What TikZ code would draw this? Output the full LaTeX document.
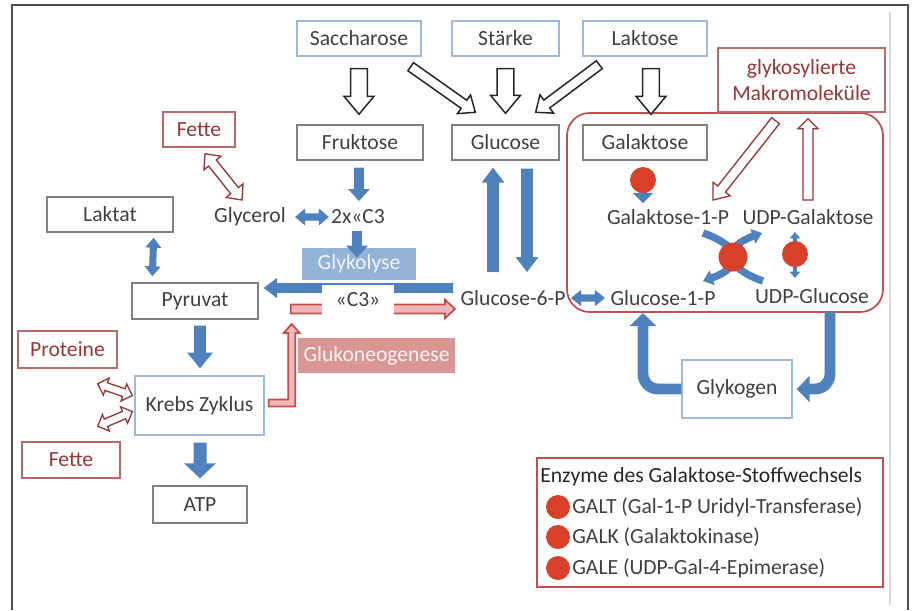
\documentclass[tikz,border=0pt]{standalone}
\usepackage{fontspec}
\setmainfont{Carlito}
\usetikzlibrary{calc,arrows.meta}

\definecolor{txtgrey}{HTML}{404040}
\definecolor{boxgrey}{HTML}{808080}
\definecolor{boxblue}{HTML}{9DB9DC}
\definecolor{arrblue}{HTML}{4F81BD}
\definecolor{lightblue}{HTML}{95B3D7}
\definecolor{darkred}{HTML}{953735}
\definecolor{boxred}{HTML}{B96A68}
\definecolor{galred}{HTML}{C0504D}
\definecolor{pinkfill}{HTML}{D99694}
\definecolor{pinklight}{HTML}{EDB8B7}
\definecolor{enzred}{HTML}{D8402A}

% block arrow: [style]{from}{to}{half shaft}{half head}{head length}
\newcommand{\blockarrow}[6][]{%
  \path[#1] let \p1=(#2), \p2=(#3), \n1={atan2((\y2)-(\y1),(\x2)-(\x1))} in
    ($(\p1)+(\n1+90:#4)$) -- ($(\p2)!#6!(\p1)+(\n1+90:#4)$)
    -- ($(\p2)!#6!(\p1)+(\n1+90:#5)$) -- (\p2)
    -- ($(\p2)!#6!(\p1)+(\n1-90:#5)$) -- ($(\p2)!#6!(\p1)+(\n1-90:#4)$)
    -- ($(\p1)+(\n1-90:#4)$) -- cycle;}
% double headed block arrow
\newcommand{\dblockarrow}[6][]{%
  \path[#1] let \p1=(#2), \p2=(#3), \n1={atan2((\y2)-(\y1),(\x2)-(\x1))} in
    (\p1) -- ($(\p1)!#6!(\p2)+(\n1+90:#5)$) -- ($(\p1)!#6!(\p2)+(\n1+90:#4)$)
    -- ($(\p2)!#6!(\p1)+(\n1+90:#4)$) -- ($(\p2)!#6!(\p1)+(\n1+90:#5)$) -- (\p2)
    -- ($(\p2)!#6!(\p1)+(\n1-90:#5)$) -- ($(\p2)!#6!(\p1)+(\n1-90:#4)$)
    -- ($(\p1)!#6!(\p2)+(\n1-90:#4)$) -- ($(\p1)!#6!(\p2)+(\n1-90:#5)$) -- cycle;}

\begin{document}
\begin{tikzpicture}[x=0.02cm, y=-0.02cm,
    every node/.style={font=\fontsize{12.3}{15}\selectfont, text=txtgrey},
    greybox/.style={draw=boxgrey, line width=0.8pt, inner sep=0pt},
    bluebox/.style={draw=boxblue, line width=0.8pt, inner sep=0pt},
    redbox/.style={draw=boxred, line width=0.8pt, text=darkred, inner sep=0pt},
    metab/.style={inner sep=1pt},
    enzyme/.style={circle, fill=enzred, inner sep=0pt, minimum size=0.52cm},
    bluefill/.style={fill=arrblue},
    hollow/.style={draw=black!85, fill=white, line width=0.85pt},
    hollowred/.style={draw=darkred, fill=white, line width=0.75pt},
    gluconeo/.style={draw=galred, fill=pinklight, line width=1pt},
    bluepipe/.style={draw=arrblue, line width=6.2pt, -{Triangle[length=7.4pt,width=14.7pt]}},
    bluearc/.style={draw=arrblue, line width=4.2pt, -{Triangle[length=5.5pt,width=8.5pt]}}]

    \useasboundingbox (0,0) rectangle (914,610);

    % Frame
    \draw[line width=1.2pt, black!70] (12,610) -- (12,5) -- (908,5) -- (908,610);
    \draw[line width=1.5pt, black!15] (890,12) -- (890,605);

    % Galaktose area and legend
    \node[draw=galred, line width=1pt, rounded corners=0.45cm, minimum width=6.32cm, minimum height=3.98cm] (galarea) at (725,212.5) {};
    \node[draw=galred, line width=1pt, minimum width=6.92cm, minimum height=2.58cm] (legend) at (710,522.5) {};

    % Sugars on top
    \node[bluebox, minimum width=2.48cm, minimum height=0.7cm] (sacch) at (359,38.5) {Saccharose};
    \node[bluebox, minimum width=2.14cm, minimum height=0.7cm] (staerke) at (505.5,38.5) {Stärke};
    \node[bluebox, minimum width=2.48cm, minimum height=0.7cm] (laktose) at (645,38.5) {Laktose};
    \node[redbox, minimum width=3.34cm, minimum height=1.28cm, align=center] (glykmak) at (801.5,80) {glykosylierte\\Makromoleküle};

    % Monosaccharides
    \node[greybox, minimum width=2.52cm, minimum height=0.7cm] (frukt) at (360,142.5) {Fruktose};
    \node[greybox, minimum width=2.14cm, minimum height=0.7cm] (glucose) at (505.5,142.5) {Glucose};
    \node[greybox, minimum width=2.48cm, minimum height=0.7cm] (galakt) at (645,142.5) {Galaktose};

    % Left side
    \node[redbox, minimum width=1.44cm, minimum height=0.7cm] (fette1) at (199,129.5) {Fette};
    \node[greybox, minimum width=2.52cm, minimum height=0.7cm] (laktat) at (110,214.5) {Laktat};
    \node[greybox, minimum width=2.52cm, minimum height=0.72cm] (pyruvat) at (195,301) {Pyruvat};
    \node[redbox, minimum width=1.98cm, minimum height=0.74cm] (proteine) at (67.5,349.5) {Proteine};
    \node[bluebox, minimum width=2.58cm, minimum height=1.18cm] (krebs) at (199.5,405.5) {Krebs Zyklus};
    \node[redbox, minimum width=1.96cm, minimum height=0.72cm] (fette2) at (71,460) {Fette};
    \node[greybox, minimum width=1.88cm, minimum height=0.74cm] (atp) at (200,504.5) {ATP};

    % Glykolyse / Glukoneogenese
    \node[fill=lightblue, text=white!85!lightblue, minimum width=2.28cm, minimum height=0.64cm] (glykolyse) at (359,264) {Glykolyse};
    \node[fill=pinkfill, text=white!90!pinkfill, minimum width=3.06cm, minimum height=0.7cm] (glukoneo) at (376.5,355.5) {Glukoneogenese};

    % Metabolites
    \node[metab] (glycerol) at (250,217) {Glycerol};
    \node[metab] (c3two) at (358,217) {2x«C3};
    \node[metab] (g6p) at (513,298) {Glucose-6-P};
    \node[metab] (g1p) at (663,298) {Glucose-1-P};
    \node[metab] (udpglc) at (812,296) {UDP-Glucose};
    \node[metab] (gal1p) at (668,217) {Galaktose-1-P};
    \node[metab] (udpgal) at (808,217) {UDP-Galaktose};
    \node[bluebox, minimum width=2.2cm, minimum height=1.16cm] (glykogen) at (737,389) {Glykogen};

    % Hollow arrows (digestion)
    \blockarrow[hollow]{$(sacch.south)+(0,12)$}{$(frukt.north)+(-1,-10)$}{4.8pt}{8.5pt}{10.2pt}
    \blockarrow[hollow]{$(sacch.south east)+(-11,10)$}{$(glucose.north west)+(24,-12)$}{2.8pt}{6.5pt}{7.9pt}
    \blockarrow[hollow]{$(staerke.south)+(0,12)$}{$(glucose.north)+(0,-11)$}{4.8pt}{8.5pt}{10.2pt}
    \blockarrow[hollow]{$(laktose.south west)+(17,8)$}{$(glucose.north east)+(-24,-12)$}{2.8pt}{6.5pt}{7.9pt}
    \blockarrow[hollow]{$(laktose.south)+(6,12)$}{$(galakt.north)+(6,-10)$}{4.8pt}{8.5pt}{10.2pt}

    % Blue arrows
    \blockarrow[bluefill]{$(frukt.south)+(-1,7)$}{$(c3two)+(1,-16)$}{2.8pt}{6.2pt}{6.8pt}
    \blockarrow[bluefill]{$(c3two)+(-1,14)$}{$(glykolyse.north)+(-2,10)$}{2.8pt}{6.2pt}{6.8pt}
    \dblockarrow[bluefill]{$(glycerol)+(45,0)$}{$(c3two)+(-29,0)$}{2pt}{4.8pt}{5.7pt}
    \dblockarrow[bluefill]{$(laktat.south east)+(-20,5)$}{$(pyruvat.north west)+(21,-6)$}{2pt}{4.6pt}{5.7pt}
    \blockarrow[bluefill]{$(pyruvat.south)+(5,6)$}{$(krebs.north)+(0.5,-7)$}{3.4pt}{7.4pt}{9pt}
    \blockarrow[bluefill]{$(krebs.south)+(0.5,7)$}{$(atp.north)+(0,-7)$}{3.7pt}{9pt}{8.5pt}
    \blockarrow[bluefill]{$(g6p)+(-60,-10)$}{$(pyruvat.east)+(5,-13)$}{2.8pt}{5.7pt}{7.5pt}
    \blockarrow[bluefill]{$(g6p)+(-20,-26)$}{$(glucose.south)+(-12.5,7)$}{3.4pt}{6.5pt}{8.5pt}
    \blockarrow[bluefill]{$(glucose.south)+(21.5,8)$}{$(g6p)+(14,-26)$}{3.4pt}{6.5pt}{8.5pt}
    \dblockarrow[bluefill]{$(g6p)+(58,0)$}{$(g1p)+(-58,0)$}{2pt}{4.6pt}{5.7pt}

    % Gluconeogenesis (red)
    \blockarrow[gluconeo]{$(pyruvat.east)+(32,8)$}{$(g6p)+(-58,11)$}{2.5pt}{5.3pt}{5.7pt}
    \draw[gluconeo] ($(krebs.east)+(4,-6)$) -- ++(19.5,0) -- ++(0,-66.5) -- ++(-4.5,0) -- ++(8,-9)
        -- ++(8,9) -- ++(-4.5,0) -- ++(0,73.5) -- ++(-26.5,0) -- cycle;
    \node[fill=white, inner sep=0pt, minimum width=1.44cm, minimum height=0.62cm] (c3) at (358,300) {«C3»};

    % Fette and Proteine exchange
    \dblockarrow[hollowred]{$(fette1.south)+(6,6)$}{$(glycerol)+(-8,-17)$}{2.8pt}{6.2pt}{6.8pt}
    \dblockarrow[hollowred]{$(proteine.south east)+(-20,15)$}{$(krebs.west)+(-2,-10)$}{2.3pt}{5.1pt}{5.1pt}
    \dblockarrow[hollowred]{$(fette2.north east)+(-23,-15)$}{$(krebs.west)+(-2,6)$}{2.3pt}{5.1pt}{5.1pt}

    % Galaktose pathway
    \coordinate (galkpos) at (643,180);
    \coordinate (galtpos) at (733,257);
    \coordinate (galepos) at (795,254);
    \blockarrow[hollowred]{$(glykmak.south)+(-26,8)$}{$(gal1p)+(45,-17)$}{2.8pt}{6.2pt}{7.9pt}
    \blockarrow[hollowred]{$(udpgal)+(0,-17)$}{$(glykmak.south)+(6.5,6)$}{2.8pt}{5.7pt}{5.7pt}
    \blockarrow[bluefill]{$(galkpos)+(0,3)$}{$(gal1p)+(-25,-14)$}{2.3pt}{5.7pt}{5.7pt}
    \dblockarrow[bluefill]{$(galepos)+(0,-22)$}{$(galepos)+(0,24)$}{1.2pt}{3pt}{3.6pt}
    \draw[bluearc] ($(galtpos)+(-30,-24)$) .. controls ($(galtpos)+(10,-10)$) and ($(galtpos)+(10,10)$) .. ($(galtpos)+(-30,24)$);
    \draw[bluearc] ($(galtpos)+(30,24)$) .. controls ($(galtpos)+(-10,10)$) and ($(galtpos)+(-10,-10)$) .. ($(galtpos)+(29,-24)$);
    \node[enzyme] (galk) at (galkpos) {};
    \node[enzyme, minimum size=0.58cm] (galt) at (galtpos) {};
    \node[enzyme] (gale) at (galepos) {};

    % Glykogen
    \draw[bluepipe, rounded corners=0.3cm] (glykogen.west) -| ($(g1p)+(-20,15)$);
    \draw[bluepipe, rounded corners=0.3cm] ($(udpglc)+(18,16)$) |- ($(glykogen.east)+(4,0)$);

    % Legend
    \node[anchor=west, text=black!85, inner sep=0pt] (legtitle) at (540,477) {Enzyme des Galaktose-Stoffwechsels};
    \node[enzyme, minimum size=0.48cm] (leg1) at (558,507) {};
    \node[enzyme, minimum size=0.48cm] (leg2) at (558,537) {};
    \node[enzyme, minimum size=0.48cm] (leg3) at (558,568) {};
    \node[anchor=west, inner sep=0pt] (legtxt1) at (572,507) {GALT (Gal-1-P Uridyl-Transferase)};
    \node[anchor=west, inner sep=0pt] (legtxt2) at (572,537) {GALK (Galaktokinase)};
    \node[anchor=west, inner sep=0pt] (legtxt3) at (572,568) {GALE (UDP-Gal-4-Epimerase)};

\end{tikzpicture}
\end{document}
